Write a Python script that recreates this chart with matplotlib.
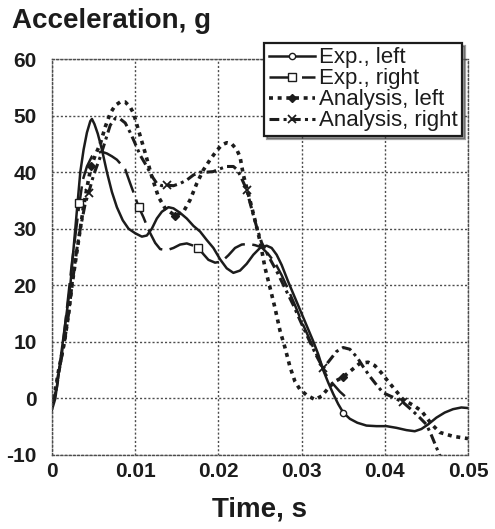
import numpy as np
import matplotlib
matplotlib.use('Agg')
import matplotlib.pyplot as plt

plt.rcParams['font.family'] = ['Liberation Sans', 'DejaVu Sans']
plt.rcParams['axes.unicode_minus'] = False

# Experimental, left
t_exp_left = [0.0000, 0.0004, 0.0008, 0.0013, 0.0018, 0.0022, 0.0028, 0.0034, 0.0038, 0.0042,
              0.0046, 0.0048, 0.0051, 0.0055, 0.0060, 0.0066, 0.0072, 0.0078, 0.0085, 0.0092,
              0.0100, 0.0108, 0.0114, 0.0120, 0.0126, 0.0132, 0.0140, 0.0146, 0.0154, 0.0162,
              0.0170, 0.0178, 0.0186, 0.0194, 0.0202, 0.0210, 0.0218, 0.0226, 0.0234, 0.0242,
              0.0250, 0.0258, 0.0264, 0.0270, 0.0276, 0.0284, 0.0294, 0.0304, 0.0314, 0.0320,
              0.0326, 0.0332, 0.0338, 0.0344, 0.0350, 0.0358, 0.0367, 0.0378, 0.0390, 0.0402,
              0.0414, 0.0426, 0.0436, 0.0444, 0.0452, 0.0462, 0.0472, 0.0482, 0.0492, 0.0500]
a_exp_left = [-2.0, 0.0, 4.5, 10.0, 15.5, 20.0, 30.0, 40.0, 44.0, 47.0,
              49.0, 49.4, 48.5, 46.8, 44.0, 40.0, 36.5, 33.8, 31.5, 30.0,
              29.2, 28.6, 28.8, 30.0, 31.8, 33.0, 33.8, 33.6, 32.8, 31.8,
              30.5, 29.5, 28.0, 26.6, 24.6, 23.0, 22.2, 22.6, 23.8, 25.4,
              26.6, 27.0, 26.6, 25.4, 23.6, 20.6, 17.1, 13.6, 10.1, 7.8,
              5.0, 2.8, 0.8, -1.0, -2.5, -3.6, -4.3, -4.8, -4.9, -4.9,
              -5.2, -5.6, -5.8, -5.4, -4.6, -3.4, -2.5, -1.9, -1.6, -1.7]

# Experimental, right
t_exp_right = [0.0000, 0.0006, 0.0012, 0.0018, 0.0024, 0.0030, 0.0033, 0.0037, 0.0042, 0.0048,
               0.0054, 0.0060, 0.0066, 0.0072, 0.0078, 0.0084, 0.0088, 0.0094, 0.0099, 0.0104,
               0.0110, 0.0116, 0.0124, 0.0130, 0.0138, 0.0146, 0.0154, 0.0162, 0.0170, 0.0176,
               0.0182, 0.0188, 0.0196, 0.0204, 0.0212, 0.0220, 0.0228, 0.0236, 0.0244, 0.0252,
               0.0260, 0.0268, 0.0276, 0.0284, 0.0292, 0.0300, 0.0308, 0.0316, 0.0322, 0.0328,
               0.0334, 0.0340, 0.0346, 0.0352]
a_exp_right = [-1.0, 2.0, 8.0, 16.0, 24.0, 31.0, 34.5, 38.6, 41.0, 42.8,
               43.4, 43.6, 43.3, 42.8, 42.2, 41.2, 40.5, 38.0, 36.0, 33.9,
               32.0, 29.8, 27.5, 26.4, 26.2, 26.6, 27.2, 27.4, 27.0, 26.6,
               25.5, 24.5, 24.0, 24.2, 25.3, 26.6, 27.2, 27.3, 27.1, 26.7,
               25.5, 24.0, 21.8, 19.2, 16.5, 13.6, 11.0, 8.3, 6.5, 4.5,
               3.2, 2.2, 1.2, 0.4]

# Analysis, left
t_an_left = [0.0000, 0.0004, 0.0008, 0.0015, 0.0020, 0.0024, 0.0030, 0.0034, 0.0038, 0.0043,
             0.0047, 0.0052, 0.0058, 0.0064, 0.0070, 0.0076, 0.0082, 0.0088, 0.0094, 0.0098,
             0.0104, 0.0112, 0.0120, 0.0128, 0.0136, 0.0148, 0.0158, 0.0166, 0.0174, 0.0182,
             0.0190, 0.0198, 0.0204, 0.0210, 0.0216, 0.0222, 0.0226, 0.0230, 0.0238, 0.0244,
             0.0250, 0.0256, 0.0262, 0.0268, 0.0274, 0.0280, 0.0286, 0.0292, 0.0298, 0.0306,
             0.0316, 0.0324, 0.0332, 0.0340, 0.0350, 0.0360, 0.0370, 0.0380, 0.0388, 0.0396,
             0.0404, 0.0412, 0.0422, 0.0434, 0.0444, 0.0456, 0.0466, 0.0482, 0.0500]
a_an_left = [0.0, 1.5, 5.0, 10.0, 15.0, 20.0, 26.0, 30.0, 34.0, 38.0,
             41.0, 43.0, 45.0, 48.0, 50.4, 51.8, 52.4, 52.4, 51.5, 50.4,
             47.4, 43.4, 39.2, 35.6, 33.6, 32.3, 33.0, 35.1, 38.0, 40.4,
             42.2, 43.8, 44.8, 45.2, 45.0, 44.0, 42.7, 39.5, 35.0, 31.5,
             27.8, 23.1, 19.6, 16.0, 12.0, 9.0, 5.6, 3.0, 1.6, 0.6,
             -0.2, 0.4, 1.8, 3.0, 3.8, 5.0, 6.2, 6.4, 5.8, 4.5,
             3.0, 1.6, -0.2, -1.2, -2.2, -4.5, -6.0, -6.7, -7.1]

# Analysis, right
t_an_right = [0.0000, 0.0004, 0.0008, 0.0015, 0.0020, 0.0024, 0.0030, 0.0034, 0.0040, 0.0044,
              0.0050, 0.0058, 0.0064, 0.0070, 0.0076, 0.0082, 0.0088, 0.0094, 0.0098, 0.0106,
              0.0114, 0.0120, 0.0126, 0.0132, 0.0138, 0.0146, 0.0154, 0.0162, 0.0170, 0.0178,
              0.0186, 0.0194, 0.0202, 0.0210, 0.0218, 0.0222, 0.0226, 0.0234, 0.0238, 0.0242,
              0.0246, 0.0252, 0.0260, 0.0270, 0.0280, 0.0290, 0.0300, 0.0310, 0.0318, 0.0326,
              0.0334, 0.0342, 0.0350, 0.0358, 0.0367, 0.0374, 0.0382, 0.0390, 0.0398, 0.0410,
              0.0422, 0.0432, 0.0442, 0.0450, 0.0456, 0.0463, 0.0470]
a_an_right = [-1.0, 1.0, 4.5, 10.0, 15.0, 20.0, 26.5, 30.0, 34.5, 36.3,
              39.5, 42.7, 45.5, 48.3, 49.5, 49.4, 48.7, 47.0, 45.7, 43.0,
              41.0, 39.3, 38.0, 37.6, 37.7, 37.6, 38.0, 38.6, 39.5, 40.0,
              40.0, 40.1, 40.6, 41.0, 41.0, 40.5, 39.5, 36.9, 34.6, 32.4,
              30.3, 27.5, 25.2, 22.5, 19.5, 16.5, 13.2, 10.0, 7.5, 5.3,
              6.8, 8.3, 9.0, 8.7, 7.2, 5.6, 3.9, 2.4, 1.0, 0.2,
              -0.7, -2.0, -3.4, -4.6, -6.5, -9.0, -11.5]

# times where the symbols sit on each curve
mark_exp_left = [0.0350]
mark_exp_right = [0.0033, 0.0104, 0.0176]
mark_an_left = [0.0047, 0.0148, 0.0350]
mark_an_right = [0.0044, 0.0138, 0.0234, 0.0326, 0.0422]

x_ticks = [0, 0.01, 0.02, 0.03, 0.04, 0.05]
x_tick_labels = ['0', '0.01', '0.02', '0.03', '0.04', '0.05']
y_ticks = [-10, 0, 10, 20, 30, 40, 50, 60]

ink = '#1c1c1c'

fig = plt.figure(figsize=(4.95, 5.29), dpi=100)
ax = fig.add_axes([52/495, 1 - 455/529, 416/495, 396/529])

ax.plot(t_exp_left, a_exp_left, color=ink, lw=1.8, marker='o', ms=4.5, mfc='white', mec=ink, mew=1,
        markevery=[t_exp_left.index(m) for m in mark_exp_left], label='Exp., left')
ax.plot(t_exp_right, a_exp_right, color=ink, lw=1.8, dashes=(10, 3), marker='s', ms=5.5, mfc='white',
        mec=ink, mew=1, markevery=[t_exp_right.index(m) for m in mark_exp_right], label='Exp., right')
ax.plot(t_an_left, a_an_left, color=ink, lw=2.6, dashes=(1.1, 1.3), marker='D', ms=4, mfc=ink, mec=ink,
        markevery=[t_an_left.index(m) for m in mark_an_left], label='Analysis, left')
ax.plot(t_an_right, a_an_right, color=ink, lw=2.2, dashes=(3.2, 1.4, 1.0, 1.4), marker='x', ms=6, mew=1.3,
        mec=ink, markevery=[t_an_right.index(m) for m in mark_an_right], label='Analysis, right')

ax.set_xlim(0, 0.05)
ax.set_ylim(-10, 60)
ax.set_xticks(x_ticks)
ax.set_xticklabels(x_tick_labels)
ax.set_yticks(y_ticks)
ax.tick_params(length=0, labelsize=15, colors=ink)
ax.tick_params(axis='y', pad=11)
ax.tick_params(axis='x', pad=5)
for lab in ax.get_xticklabels() + ax.get_yticklabels():
    lab.set_fontweight('bold')

ax.grid(True, color='0.3', lw=1.0, linestyle=(0, (1.5, 1.5)))
for sp in ax.spines.values():
    sp.set_color('0.3')
    sp.set_linewidth(1.0)
    sp.set_linestyle((0, (1.5, 1.5)))

fig.text(12/495, 1 - 28/529, 'Acceleration, g', fontsize=20, fontweight='bold', color=ink)
ax.set_xlabel('Time, s', fontsize=20, fontweight='bold', color=ink, labelpad=11)

leg = ax.legend(loc='upper right', bbox_to_anchor=(462/495, 1 - 43/529), bbox_transform=fig.transFigure,
                fontsize=16, frameon=True, fancybox=False, shadow={'color': '0.25'}, numpoints=1,
                handlelength=2.1, handletextpad=0.15, labelspacing=0.0, borderpad=0.2,
                borderaxespad=0)
leg.get_frame().set_edgecolor(ink)
leg.get_frame().set_linewidth(1.6)
leg.get_frame().set_alpha(1)
for txt in leg.get_texts():
    txt.set_color(ink)

fig.savefig('out.png', dpi=100)
